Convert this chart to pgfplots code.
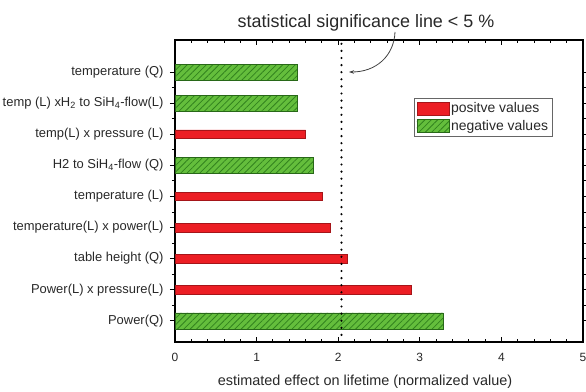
\documentclass[border=0pt]{standalone}
\usepackage{fontspec}
\setmainfont{Liberation Sans}
\usepackage{pgfplots}
\pgfplotsset{compat=1.18}
\usetikzlibrary{patterns.meta,arrows.meta}
\definecolor{barred}{RGB}{236,30,36}
\definecolor{bargreen}{RGB}{100,190,60}
\definecolor{hatchgreen}{RGB}{50,130,30}
\definecolor{txt}{RGB}{40,40,40}
\begin{document}
\begin{tikzpicture}
\useasboundingbox (0,0) rectangle (586bp,392bp);
\begin{axis}[
  at={(175bp,50bp)}, anchor=south west,
  scale only axis, width=408bp, height=302bp,
  xmin=0, xmax=5, ymin=-0.68, ymax=9.03,
  xtick={0,1,2,3,4,5}, minor x tick num=4,
  ytick={0,...,8}, minor y tick num=1,
  yticklabels={Power(Q),Power(L) x pressure(L),table height (Q),temperature(L) x power(L),temperature (L),H2 to SiH\textsubscript{4}-flow (Q),temp(L) x pressure (L),temp (L) xH\textsubscript{2} to SiH\textsubscript{4}-flow(L),temperature (Q)},
  tick align=inside, tick pos=both,
  major tick length=5bp, minor tick length=3bp,
  axis line style={line width=1.3bp},
  every tick/.style={black, line width=0.9bp},
  tick label style={font=\fontsize{12}{14}\selectfont, text=txt},
  /pgf/number format/assume math mode=true,
  xticklabel style={yshift=-8bp},
  yticklabel style={font=\fontsize{13}{15}\selectfont, xshift=-3bp},
  xlabel={estimated effect on lifetime (normalized value)},
  xlabel style={font=\fontsize{14.5}{16}\selectfont, text=txt, yshift=-6bp, xshift=-14bp},
  xbar, bar shift=0pt,
  legend style={at={(0.926,0.808)}, anchor=north east, draw=black!60, line width=0.6bp,
    font=\fontsize{14}{16}\selectfont, text=txt, inner sep=2.5bp, row sep=2bp},
  legend cell align=left,
  legend image code/.code={\draw[#1, line width=0.5bp] (0bp,-6.5bp) rectangle (32bp,6.5bp);},
]
\addplot[xbar, bar width=8.5bp, fill=barred, draw=barred!70!black, line width=0.5bp]
  coordinates {(1.60,6) (1.80,4) (1.90,3) (2.11,2) (2.89,1)};
\addlegendentry{positve values}
\addplot[xbar, bar width=16bp, fill=bargreen, draw=hatchgreen!80!black, line width=0.5bp,
  postaction={pattern={Lines[angle=45,distance=4.5bp,line width=0.8bp]}, pattern color=hatchgreen}]
  coordinates {(1.50,8) (1.50,7) (1.69,5) (3.29,0)};
\addlegendentry{negative values}
\addplot[forget plot, sharp plot, black, line width=2.4bp, line cap=round, dash pattern=on 0bp off 7.1bp]
  coordinates {(2.04,-0.68) (2.04,9.03)};
\end{axis}
\node[font=\fontsize{18}{20}\selectfont, text=txt] at (366bp,369bp) {statistical significance line < 5 \%};
\draw[-{Stealth[length=5bp,width=3.5bp]}, black!75, line width=0.8bp]
  (395bp,360bp) .. controls (394bp,336bp) and (376bp,320bp) .. (349bp,320bp);
\end{tikzpicture}
\end{document}
